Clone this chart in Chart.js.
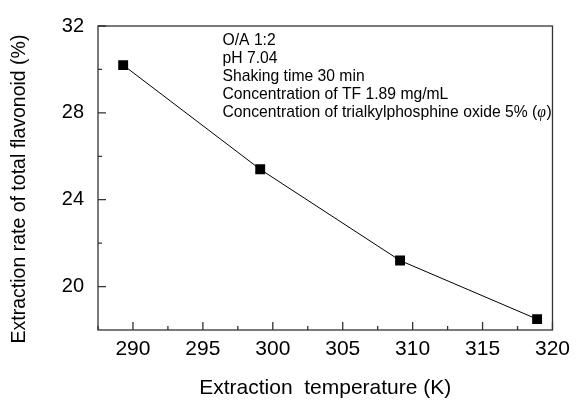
<!DOCTYPE html>
<html>
<head>
<meta charset="utf-8">
<script src="https://cdn.jsdelivr.net/npm/chart.js@4/dist/chart.umd.min.js"></script>
<style>
    html, body { margin: 0; padding: 0; background: #fff; }
</style>
</head>
<body>
<canvas id="myChart" width="577" height="401"></canvas>
<script>
const temperatures = [289.3, 299.1, 309.1, 318.9];
const extractionRates = [30.2, 25.4, 21.2, 18.5];
const xTickValues = [290, 295, 300, 305, 310, 315, 320];
const xMinorTicks = [287.5, 292.5, 297.5, 302.5, 307.5, 312.5, 317.5];
const yTickValues = [20, 24, 28, 32];
const yMinorTicks = [22, 26, 30];
const conditionLines = [
    'O/A 1:2',
    'pH 7.04',
    'Shaking time 30 min',
    'Concentration of TF 1.89 mg/mL',
    'Concentration of trialkylphosphine oxide 5% ('
];

const FONT = '"Liberation Sans", Arial, sans-serif';
const AXIS_COLOR = '#333';

// frame, inward ticks, y title and the condition notes
const framePlugin = {
    id: 'frame',
    afterDraw(chart) {
        const ctx = chart.ctx;
        const area = chart.chartArea;
        const x = chart.scales.x;
        const y = chart.scales.y;

        ctx.save();
        ctx.strokeStyle = AXIS_COLOR;
        ctx.lineWidth = 1.3;
        ctx.strokeRect(area.left, area.top, area.right - area.left, area.bottom - area.top);

        ctx.beginPath();
        xTickValues.forEach(v => {
            const px = x.getPixelForValue(v);
            ctx.moveTo(px, area.bottom);
            ctx.lineTo(px, area.bottom - 8);
        });
        xMinorTicks.forEach(v => {
            const px = x.getPixelForValue(v);
            ctx.moveTo(px, area.bottom);
            ctx.lineTo(px, area.bottom - 4);
        });
        yTickValues.forEach(v => {
            const py = y.getPixelForValue(v);
            ctx.moveTo(area.left, py);
            ctx.lineTo(area.left + 8, py);
        });
        yMinorTicks.forEach(v => {
            const py = y.getPixelForValue(v);
            ctx.moveTo(area.left, py);
            ctx.lineTo(area.left + 4, py);
        });
        ctx.stroke();

        // y axis title
        ctx.fillStyle = '#000';
        ctx.font = '19.5px ' + FONT;
        ctx.textAlign = 'center';
        ctx.textBaseline = 'middle';
        ctx.translate(20, 189);
        ctx.rotate(-Math.PI / 2);
        ctx.fillText('Extraction rate of total flavonoid (%)', 0, 0);
        ctx.restore();

        // condition notes
        ctx.save();
        ctx.fillStyle = '#000';
        ctx.font = '15.7px ' + FONT;
        ctx.textAlign = 'left';
        ctx.textBaseline = 'alphabetic';
        const textLeft = 222.5;
        const firstBaseline = 45;
        const lineGap = 18;
        conditionLines.forEach((line, i) => {
            ctx.fillText(line, textLeft, firstBaseline + i * lineGap);
        });
        const lastLine = conditionLines[conditionLines.length - 1];
        let tx = textLeft + ctx.measureText(lastLine).width;
        const ty = firstBaseline + (conditionLines.length - 1) * lineGap;
        ctx.font = 'italic 15.7px "Liberation Serif", serif';
        ctx.fillText('\u03c6', tx, ty);
        tx += ctx.measureText('\u03c6').width + 0.5;
        ctx.font = '15.7px ' + FONT;
        ctx.fillText(')', tx, ty);
        ctx.restore();
    }
};

function createChart() {
    const ctx = document.getElementById('myChart').getContext('2d');
    return new Chart(ctx, {
        type: 'scatter',
        data: {
            datasets: [{
                data: temperatures.map((t, i) => ({ x: t, y: extractionRates[i] })),
                showLine: true,
                borderColor: '#000',
                borderWidth: 1,
                backgroundColor: '#000',
                pointStyle: 'rect',
                pointRadius: 7,
                pointBorderWidth: 0,
                tension: 0
            }]
        },
        options: {
            responsive: false,
            animation: false,
            layout: {
                padding: { top: 23, right: 18, left: 0, bottom: 0 }
            },
            plugins: {
                legend: { display: false },
                tooltip: { enabled: false }
            },
            scales: {
                x: {
                    type: 'linear',
                    min: 287.5,
                    max: 320,
                    afterBuildTicks: scale => {
                        scale.ticks = xTickValues.map(v => ({ value: v }));
                    },
                    afterFit: scale => {
                        scale.height = 71;
                    },
                    grid: { display: false, drawTicks: false },
                    border: { display: false },
                    ticks: {
                        padding: 7,
                        color: '#000',
                        maxRotation: 0,
                        autoSkip: false,
                        font: { family: FONT, size: 21 }
                    },
                    title: {
                        display: true,
                        text: 'Extraction  temperature (K)',
                        color: '#000',
                        font: { family: FONT, size: 21 },
                        padding: { top: 0, bottom: 0 }
                    }
                },
                y: {
                    type: 'linear',
                    min: 18,
                    max: 32,
                    afterBuildTicks: scale => {
                        scale.ticks = yTickValues.map(v => ({ value: v }));
                    },
                    afterFit: scale => {
                        scale.width = 98;
                    },
                    grid: { display: false, drawTicks: false },
                    border: { display: false },
                    ticks: {
                        padding: 14,
                        color: '#000',
                        autoSkip: false,
                        font: { family: FONT, size: 20 }
                    }
                }
            }
        },
        plugins: [framePlugin]
    });
}

let chart = createChart();
</script>
</body>
</html>
